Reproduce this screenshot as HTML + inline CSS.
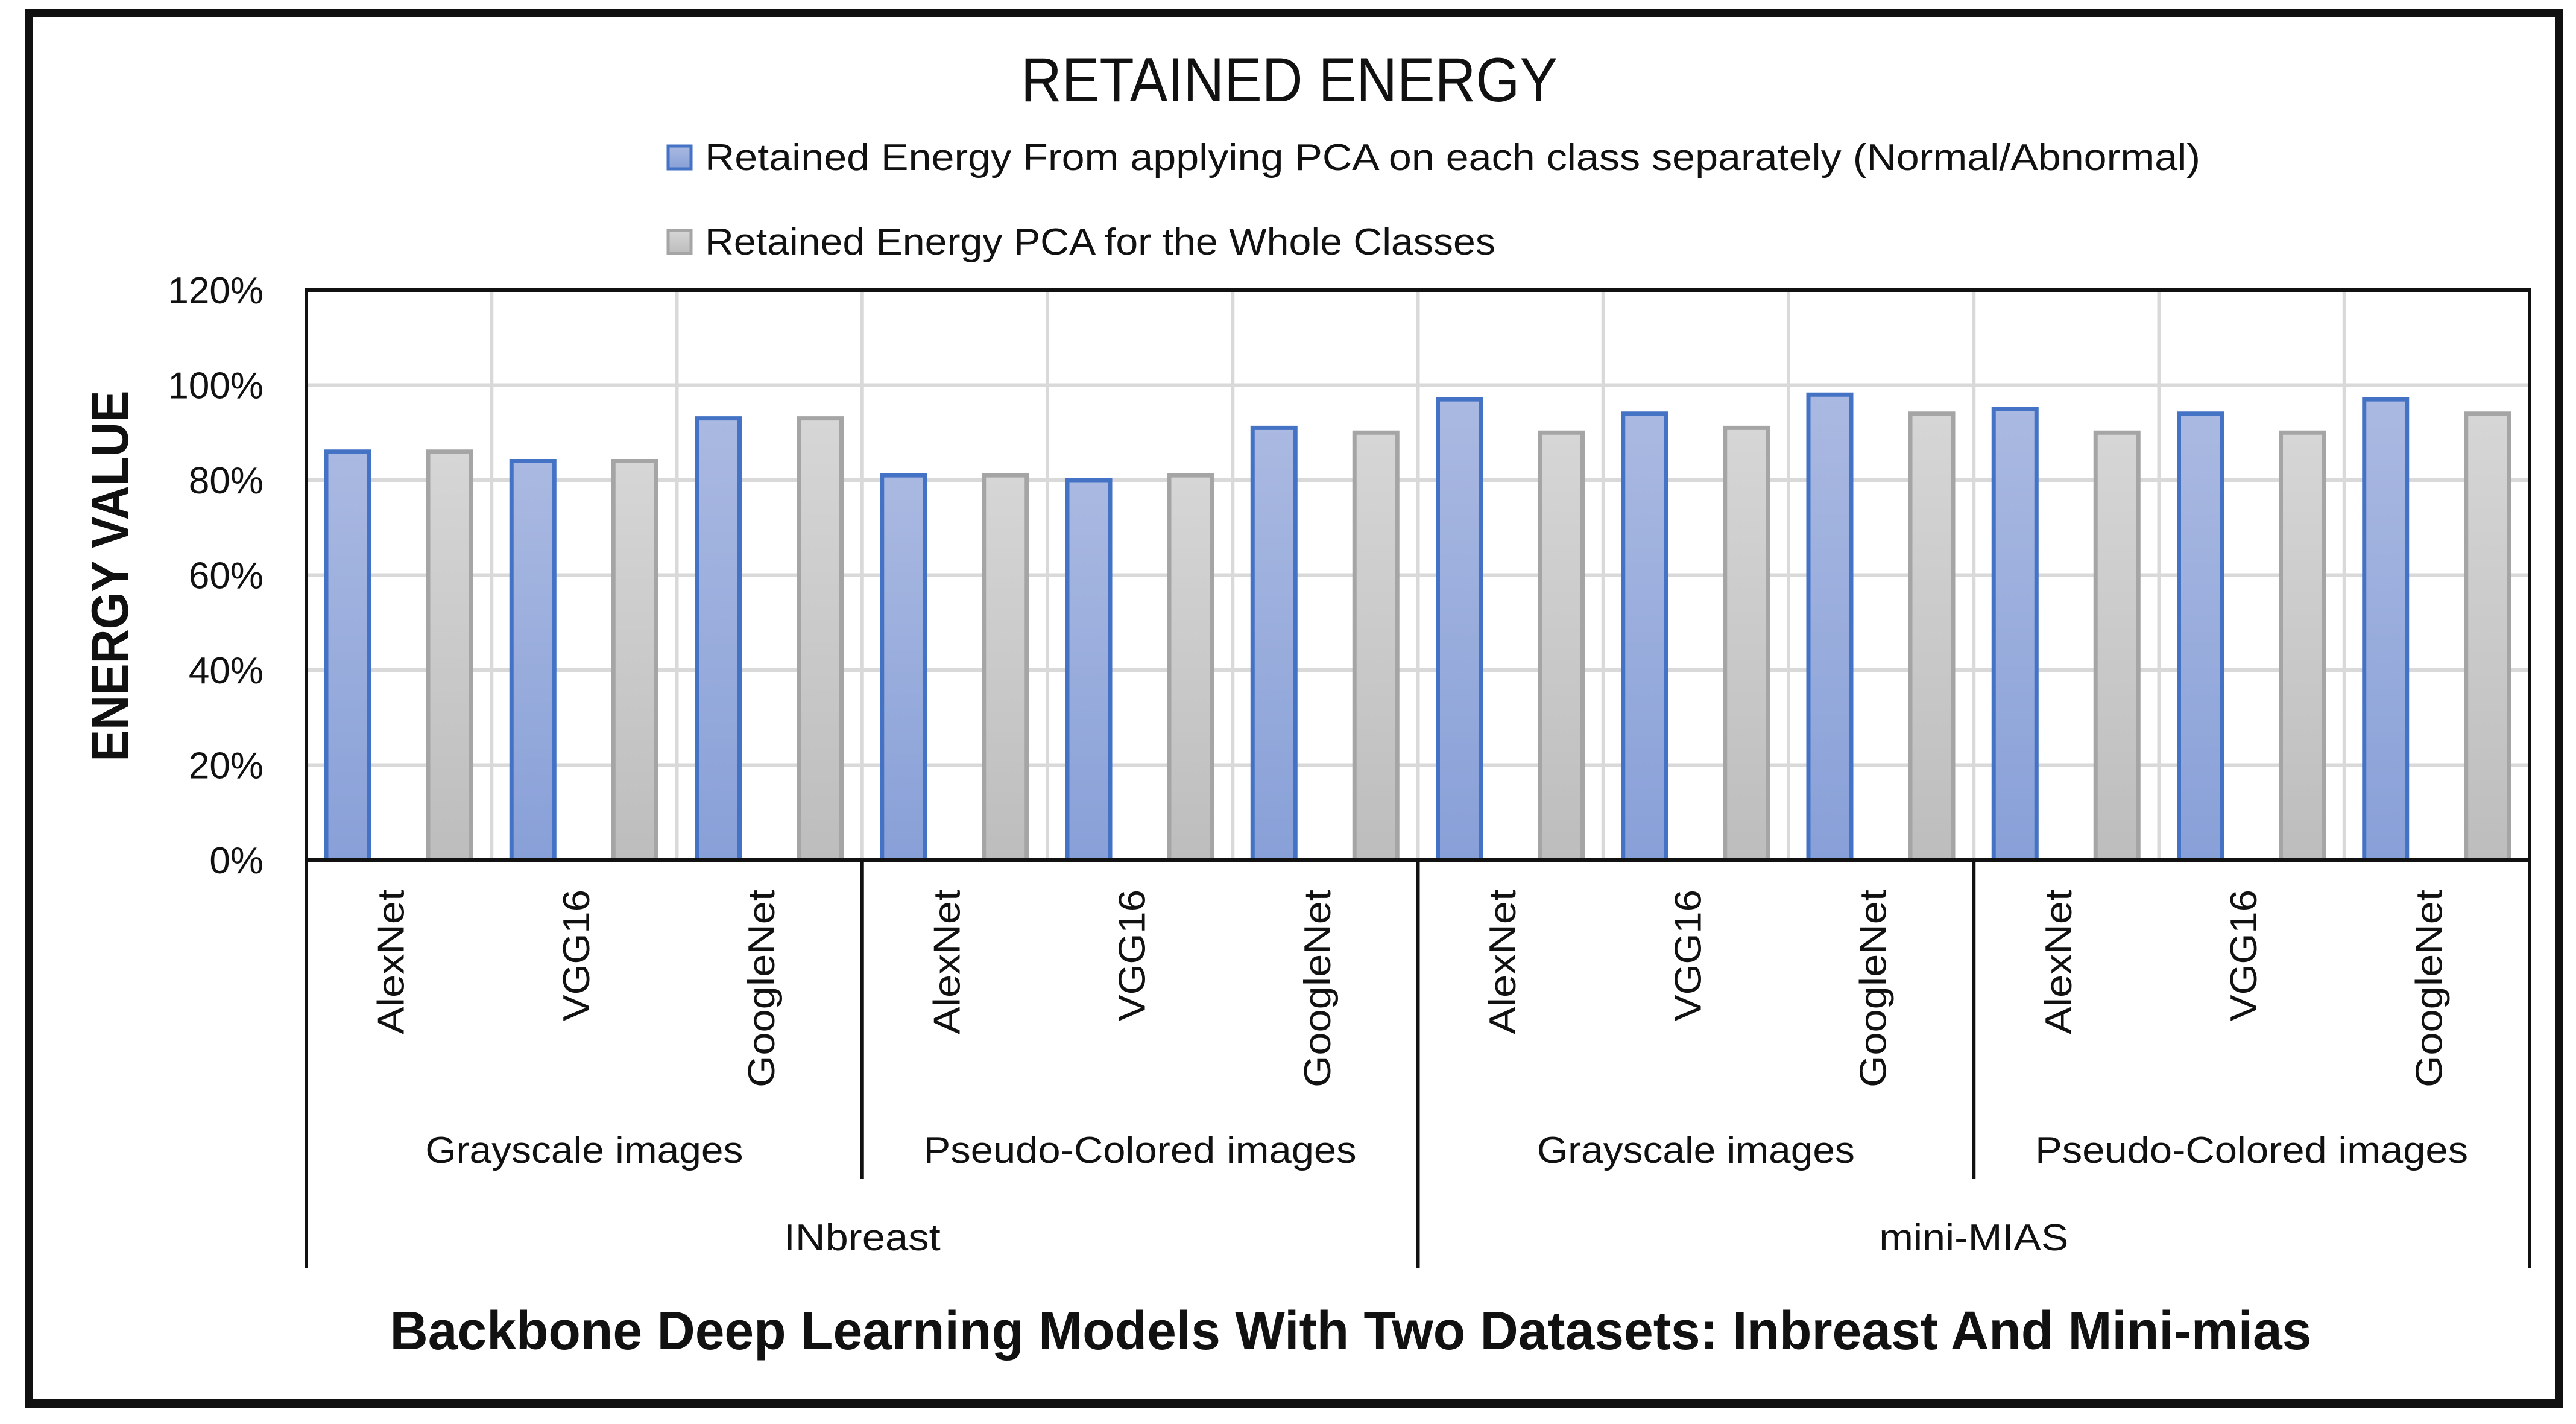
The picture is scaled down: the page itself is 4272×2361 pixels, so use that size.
<!DOCTYPE html>
<html><head><meta charset="utf-8"><style>
html,body{margin:0;padding:0;background:#fff;}
svg{display:block;font-family:"Liberation Sans",sans-serif;}
</style></head><body>
<svg id="chart" width="4272" height="2361" viewBox="0 0 4272 2361" xmlns="http://www.w3.org/2000/svg">
<defs>
<linearGradient id="gBlue" x1="0" y1="0" x2="0" y2="1"><stop offset="0" stop-color="#aab9e1"/><stop offset="1" stop-color="#88a0d8"/></linearGradient>
<linearGradient id="gGray" x1="0" y1="0" x2="0" y2="1"><stop offset="0" stop-color="#d6d6d6"/><stop offset="1" stop-color="#bdbdbd"/></linearGradient>
</defs>
<rect x="48" y="22" width="4196" height="2305" fill="#fff" stroke="#111" stroke-width="14"/>
<text x="2138" y="168" font-size="104" text-anchor="middle" textLength="890" lengthAdjust="spacingAndGlyphs" fill="#111">RETAINED ENERGY</text>
<g>
<rect x="1108" y="242" width="38" height="38" fill="url(#gBlue)" stroke="#4472c4" stroke-width="5"/>
<text x="1169" y="282" font-size="62" textLength="2480" lengthAdjust="spacingAndGlyphs" fill="#111">Retained Energy From applying PCA on  each class separately (Normal/Abnormal)</text>
<rect x="1108" y="382" width="38" height="38" fill="url(#gGray)" stroke="#a5a5a5" stroke-width="5"/>
<text x="1169" y="422" font-size="62" textLength="1311" lengthAdjust="spacingAndGlyphs" fill="#111">Retained Energy PCA for the Whole Classes</text>
</g>
<text transform="translate(212,955) rotate(-90)" font-size="86" font-weight="bold" text-anchor="middle" textLength="615" lengthAdjust="spacingAndGlyphs" fill="#111">ENERGY VALUE</text>
<text x="2240" y="2237" font-size="90" font-weight="bold" text-anchor="middle" textLength="3187" lengthAdjust="spacingAndGlyphs" fill="#111">Backbone Deep Learning Models With Two Datasets: Inbreast And Mini-mias</text>
<g id="plot"></g>
</svg>
<script>
const models = ["AlexNet","VGG16","GoogleNet","AlexNet","VGG16","GoogleNet","AlexNet","VGG16","GoogleNet","AlexNet","VGG16","GoogleNet"];
const imageGroups = ["Grayscale images","Pseudo-Colored images","Grayscale images","Pseudo-Colored images"];
const datasets = ["INbreast","mini-MIAS"];
const separateValues = [86,84,93,81,80,91,97,94,98,95,94,97];
const wholeValues = [86,84,93,81,81,90,90,91,94,90,90,94];
const yTicks = [0,20,40,60,80,100,120];
const yTickLabels = ["0%","20%","40%","60%","80%","100%","120%"];

const NS="http://www.w3.org/2000/svg";
const L=508,R=4195,T=481,B=1426,YMAX=120;
const n=models.length, cw=(R-L)/n;
const y=v=>B-(v/YMAX)*(B-T);
const x=i=>L+i*cw;
const g=document.getElementById('plot');
function mk(tag,attrs,parent){const e=document.createElementNS(NS,tag);for(const k in attrs)e.setAttribute(k,attrs[k]);(parent||g).appendChild(e);return e;}

yTicks.forEach((t,i)=>{
  if(t>0&&t<YMAX){const gl=mk('line',{x1:L,x2:R,y1:y(t),y2:y(t),stroke:'#d9d9d9','stroke-width':6});
  
  }
  const tl=mk('text',{x:437,y:y(t)+22,'font-size':62,'text-anchor':'end',fill:'#111'});
  tl.textContent=yTickLabels[i];
  
  
});
for(let i=1;i<n;i++){
  const vl=mk('line',{x1:x(i),x2:x(i),y1:T,y2:B,stroke:'#d9d9d9','stroke-width':6});
  
  
}
const bw=71;
for(let i=0;i<n;i++){
  const b1=mk('rect',{x:x(i)+33,y:y(separateValues[i]),width:bw,height:B-y(separateValues[i]),fill:'url(#gBlue)',stroke:'#4472c4','stroke-width':7});
  
  
  const b2=mk('rect',{x:x(i)+202,y:y(wholeValues[i]),width:bw,height:B-y(wholeValues[i]),fill:'url(#gGray)',stroke:'#a5a5a5','stroke-width':7});
  
  
}
const pb=mk('rect',{x:L,y:T,width:R-L,height:B-T,fill:'none',stroke:'#111','stroke-width':6});


const lens={AlexNet:240,VGG16:218,GoogleNet:328};
for(let i=0;i<n;i++){
  const cx=x(i)+cw/2+8;
  const t=mk('text',{transform:`translate(${cx},1475) rotate(-90)`,'font-size':62,'text-anchor':'end',textLength:lens[models[i]],lengthAdjust:'spacingAndGlyphs',fill:'#111'});
  t.textContent=models[i];
  
  
}
for(let k=0;k<=imageGroups.length;k++){
  const xx=x(k*3);
  const bottom=(k%2===0)?2103:1955;
  const ln=mk('line',{x1:xx,x2:xx,y1:B,y2:bottom,stroke:'#111','stroke-width':6});
  
  
}
const gLens={"Grayscale images":527,"Pseudo-Colored images":718};
imageGroups.forEach((gname,k)=>{
  const t=mk('text',{x:x(k*3)+1.5*cw,y:1928,'font-size':62,'text-anchor':'middle',textLength:gLens[gname],lengthAdjust:'spacingAndGlyphs',fill:'#111'});
  t.textContent=gname;
  
  
});
const dLens=[260,314];
datasets.forEach((d,k)=>{
  const t=mk('text',{x:x(k*6)+3*cw,y:2073,'font-size':62,'text-anchor':'middle',textLength:dLens[k],lengthAdjust:'spacingAndGlyphs',fill:'#111'});
  t.textContent=d;
  
  
});
</script>
</body></html>
